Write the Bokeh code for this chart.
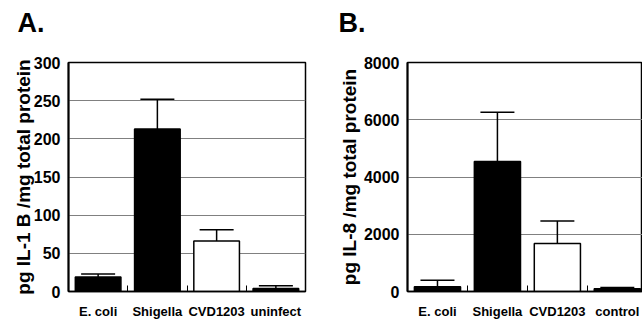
from bokeh.plotting import figure
from bokeh.layouts import row
from bokeh.models import ColumnDataSource, Range1d, FixedTicker, Whisker, TeeHead, Title
from bokeh.embed import file_html
from bokeh.resources import INLINE

# ---- data ----
cats_a = ["E. coli", "Shigella", "CVD1203", "uninfect"]
il1b = [19, 213, 66, 4]
il1b_err = [4, 39, 15, 3.5]
colors_a = ["black", "black", "white", "black"]

cats_b = ["E. coli", "Shigella", "CVD1203", "control"]
il8 = [170, 4540, 1680, 100]
il8_err = [220, 1720, 780, 40]
colors_b = ["black", "black", "white", "black"]

yticks_a = [0, 50, 100, 150, 200, 250, 300]
yticks_b = [0, 2000, 4000, 6000, 8000]

FONT = "Liberation Sans"


def panel(cats, vals, errs, colors, yticks, ylabel, letter, width, border_left,
          border_right, x_end, label_standoff, title_offset):
    xs = [i + 0.5 for i in range(len(cats))]
    src = ColumnDataSource(dict(x=xs, top=vals, upper=[v + e for v, e in zip(vals, errs)],
                                color=colors))
    p = figure(width=width, height=321, output_backend="svg", toolbar_location=None,
               x_range=Range1d(0, x_end), y_range=Range1d(yticks[0], yticks[-1]),
               min_border_left=border_left, min_border_right=border_right,
               min_border_top=62, min_border_bottom=23)
    p.background_fill_color = "white"
    p.border_fill_color = "white"
    p.outline_line_color = "black"
    p.outline_line_width = 1.5

    # spacer between frame and panel letter
    p.add_layout(Title(text=" ", text_font_size="1px", standoff=15), "above")
    p.add_layout(Title(text=letter, text_font=FONT, text_font_style="bold",
                       text_font_size="27px", text_color="black", align="left",
                       vertical_align="top", offset=title_offset, standoff=10), "above")

    # error bars (upper only)
    w = Whisker(base="x", lower="top", upper="upper", source=src,
                line_color="black", line_width=1.5,
                upper_head=TeeHead(size=34, line_color="black", line_width=1.5),
                lower_head=None)
    p.add_layout(w)
    p.vbar(x="x", top="top", bottom=0, width=0.77, source=src,
           fill_color="color", line_color="black", line_width=1.5)

    # y axis
    yax = p.yaxis[0]
    yax.ticker = FixedTicker(ticks=yticks)
    yax.major_tick_in = 0
    yax.major_tick_out = 0
    yax.minor_tick_in = 0
    yax.minor_tick_out = 0
    yax.axis_line_color = "black"
    yax.axis_line_width = 2
    yax.major_label_text_font = FONT
    yax.major_label_text_font_style = "bold"
    yax.major_label_text_font_size = "16px"
    yax.major_label_text_color = "black"
    yax.major_label_standoff = 8
    yax.axis_label = ylabel
    yax.axis_label_text_font = FONT
    yax.axis_label_text_font_style = "bold"
    yax.axis_label_text_font_size = "19px"
    yax.axis_label_text_color = "black"
    yax.axis_label_standoff = label_standoff

    # x axis
    xax = p.xaxis[0]
    xax.ticker = FixedTicker(ticks=xs, minor_ticks=list(range(1, len(cats))))
    xax.major_label_overrides = {x: c for x, c in zip(xs, cats)}
    xax.major_tick_in = 0
    xax.major_tick_out = 0
    xax.minor_tick_in = 6
    xax.minor_tick_out = 0
    xax.minor_tick_line_color = "black"
    xax.minor_tick_line_width = 1
    xax.axis_line_color = "black"
    xax.axis_line_width = 1.5
    xax.major_label_text_font = FONT
    xax.major_label_text_font_style = "bold"
    xax.major_label_text_font_size = "13px"
    xax.major_label_text_color = "black"
    xax.major_label_standoff = 12

    p.xgrid.visible = False
    p.ygrid.ticker = FixedTicker(ticks=yticks[1:-1])
    p.ygrid.grid_line_color = "#808080"
    p.ygrid.grid_line_width = 1
    return p


pa = panel(cats_a, il1b, il1b_err, colors_a, yticks_a, "pg IL-1 B /mg total protein",
           "A.", 330, 68, 25, 4.0, -3, -51)
pb = panel(cats_b, il8, il8_err, colors_b, yticks_b, "pg IL-8 /mg total protein",
           "B.", 312, 77, 0, 3.92, 1, -69)

layout = row(pa, pb)
open("out.html", "w").write(file_html(layout, INLINE))
